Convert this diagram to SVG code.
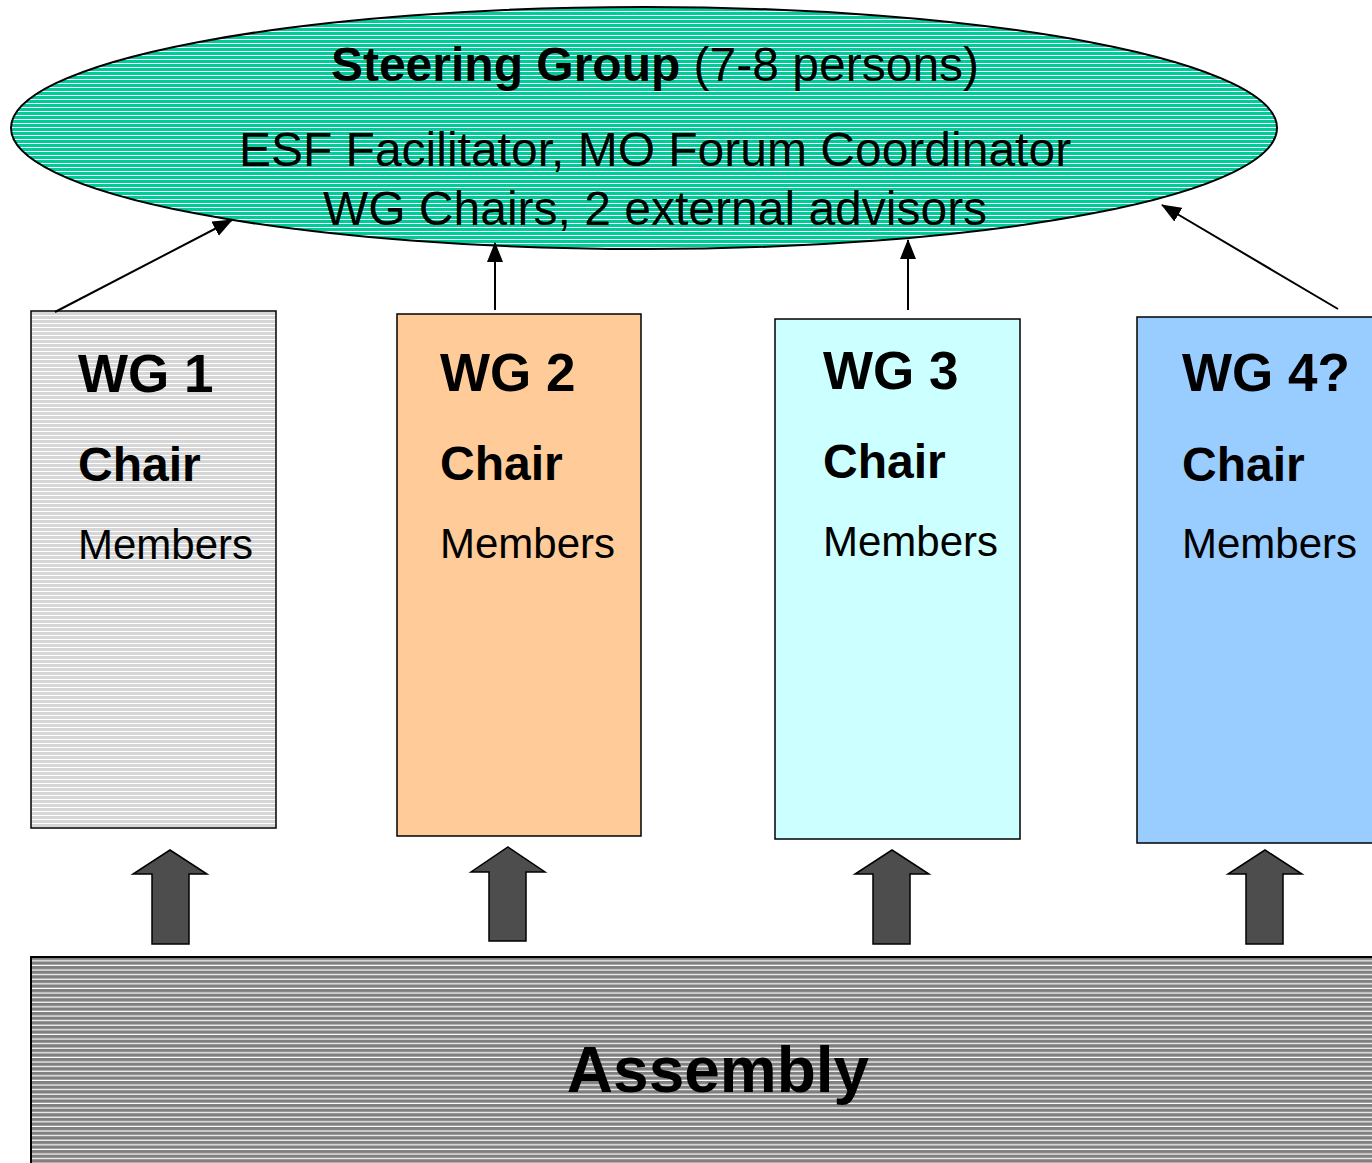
<svg xmlns="http://www.w3.org/2000/svg" width="1372" height="1163" viewBox="0 0 1372 1163">
<defs>
<pattern id="pGreen" patternUnits="userSpaceOnUse" width="8" height="4"><rect width="8" height="4" fill="#00CC99"/><rect y="3" width="8" height="1" fill="#ffffff"/></pattern>
<pattern id="pGray" patternUnits="userSpaceOnUse" width="8" height="4"><rect width="8" height="4" fill="#D6D6D6"/><rect y="3" width="8" height="1" fill="#ffffff"/></pattern>
<pattern id="pDark" patternUnits="userSpaceOnUse" width="8" height="4.6"><rect width="8" height="4.6" fill="#808080"/><rect y="3.4" width="8" height="1.2" fill="#ffffff"/></pattern>
<marker id="ah" viewBox="0 0 20 16" refX="19" refY="8" markerWidth="20" markerHeight="16" markerUnits="userSpaceOnUse" orient="auto"><path d="M0,0 L20,8 L0,16 z" fill="#000"/></marker>
<style>
.t{font-family:"Liberation Sans",Arial,sans-serif;fill:#000}
.b{font-weight:bold}
.box{stroke:#000;stroke-width:1.5}
.blk{fill:#4D4D4D;stroke:#000;stroke-width:1.5}
.con{stroke:#000;stroke-width:2;fill:none}
</style>
</defs>
<rect width="1372" height="1163" fill="#fff"/>
<g id="steering">
<ellipse cx="644" cy="128" rx="633" ry="121" fill="url(#pGreen)" stroke="#000" stroke-width="2"/>
<text class="t" x="655" y="81" font-size="48" text-anchor="middle"><tspan class="b">Steering Group</tspan> (7-8 persons)</text>
<text class="t" x="655" y="166" font-size="48" text-anchor="middle">ESF Facilitator, MO Forum Coordinator</text>
<text class="t" x="655" y="225" font-size="48" text-anchor="middle">WG Chairs, 2 external advisors</text>
</g>
<g id="wg1">
<rect class="box" x="31" y="311" width="245" height="517" fill="url(#pGray)"/>
<text class="t b" x="78" y="392" font-size="53">WG 1</text>
<text class="t b" x="78" y="481" font-size="48">Chair</text>
<text class="t" x="78" y="559" font-size="42">Members</text>
</g>
<g id="wg2">
<rect class="box" x="397" y="314" width="244" height="522" fill="#FFCC99"/>
<text class="t b" x="440" y="391" font-size="53">WG 2</text>
<text class="t b" x="440" y="480" font-size="48">Chair</text>
<text class="t" x="440" y="558" font-size="42">Members</text>
</g>
<g id="wg3">
<rect class="box" x="775" y="319" width="245" height="520" fill="#CCFFFF"/>
<text class="t b" x="823" y="389" font-size="53">WG 3</text>
<text class="t b" x="823" y="478" font-size="48">Chair</text>
<text class="t" x="823" y="556" font-size="42">Members</text>
</g>
<g id="wg4">
<rect class="box" x="1137" y="317" width="240" height="526" fill="#99CCFF"/>
<text class="t b" x="1182" y="391" font-size="53">WG 4?</text>
<text class="t b" x="1182" y="481" font-size="48">Chair</text>
<text class="t" x="1182" y="558" font-size="42">Members</text>
</g>
<g id="assembly">
<rect x="31" y="957" width="1350" height="215" fill="url(#pDark)" stroke="#000" stroke-width="2"/>
<text class="t b" x="718" y="1092" font-size="64" text-anchor="middle">Assembly</text>
</g>
<g id="connectors">
<line class="con" x1="55" y1="312" x2="232" y2="220" marker-end="url(#ah)"/>
<line class="con" x1="495" y1="310" x2="495" y2="243" marker-end="url(#ah)"/>
<line class="con" x1="908" y1="310" x2="908" y2="240" marker-end="url(#ah)"/>
<line class="con" x1="1338" y1="309" x2="1162" y2="205" marker-end="url(#ah)"/>
<path class="blk" d="M170,850 L207,874 L189,874 L189,944 L152,944 L152,874 L133,874 Z"/>
<path class="blk" d="M508,847 L545,872 L526,872 L526,941 L489,941 L489,872 L471,872 Z"/>
<path class="blk" d="M892,850 L929,874 L910,874 L910,944 L873,944 L873,874 L855,874 Z"/>
<path class="blk" d="M1265,850 L1302,874 L1283,874 L1283,944 L1246,944 L1246,874 L1228,874 Z"/>
</g>
</svg>
